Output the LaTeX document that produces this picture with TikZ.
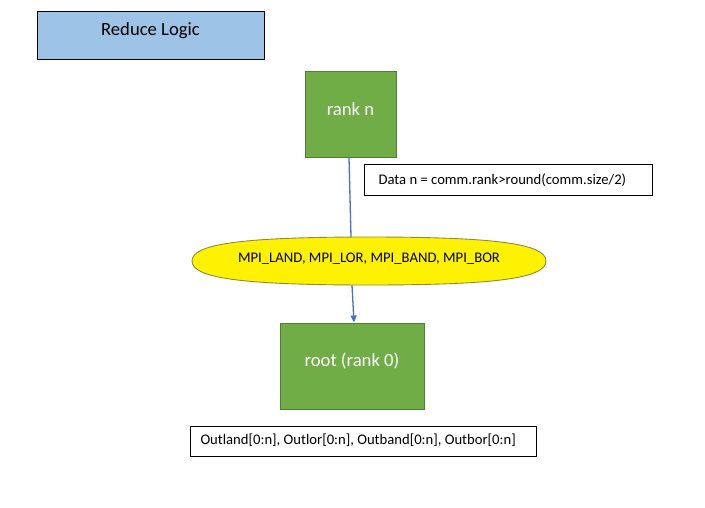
\documentclass[tikz,border=0pt]{standalone}
\usepackage{fontspec}
\setmainfont{Carlito}
\usetikzlibrary{arrows.meta}
\definecolor{titleblue}{HTML}{9DC3E6}
\definecolor{boxgreen}{HTML}{70AD47}
\definecolor{boxgreenline}{HTML}{507E32}
\definecolor{ellline}{HTML}{8C8C3A}
\definecolor{linkblue}{HTML}{4472C4}
\tikzset{
  titlebox/.style={draw=black, fill=titleblue, line width=0.9pt, minimum width=227pt, minimum height=48pt, inner sep=0pt, font=\fontsize{18.67}{22}\selectfont},
  greenbox/.style={draw=boxgreenline, fill=boxgreen, line width=0.9pt, text=white, inner sep=0pt, font=\fontsize{18.67}{22}\selectfont},
  notebox/.style={draw=black, fill=white, line width=0.9pt, inner sep=0pt, font=\fontsize{14.67}{18}\selectfont},
  opframe/.style={minimum width=354pt, minimum height=48pt, inner sep=0pt},
  opshape/.style={draw=ellline, fill=yellow, line width=0.9pt},
  link/.style={draw=linkblue, line width=1.3pt},
}
\begin{document}
\begin{tikzpicture}[x=1pt,y=-1pt]
\useasboundingbox (0,0) rectangle (705,507);
\node[titlebox] (title) at (150.5,35) {};
\node[font=\fontsize{18.67}{22}\selectfont] (titletext) at (150.5,31) {Reduce Logic};
\node[greenbox, minimum width=91pt, minimum height=86pt] (rankn) at (350.5,114) {};
\node[greenbox, fill=none, draw=none] (ranklabel) at (350.5,109) {rank n};
\node[notebox, minimum width=288pt, minimum height=31pt] (data) at (508,179.5) {};
\node[font=\fontsize{14.67}{18}\selectfont, anchor=west] (datatext) at (375,180.5) {Data n = comm.rank>round(comm.size/2)};
\node[opframe] (ops) at (369,261) {};
\draw[opshape, shift={(ops.center)}] (177,0) .. controls (177,-17) and (128,-24) .. (0,-24)
  .. controls (-128,-24) and (-177,-17) .. (-177,0)
  .. controls (-177,17) and (-128,24) .. (0,24)
  .. controls (128,24) and (177,17) .. (177,0) -- cycle;
\node[font=\fontsize{14.67}{18}\selectfont] (opstext) at (369,259) {MPI\_LAND, MPI\_LOR, MPI\_BAND, MPI\_BOR};
\node[greenbox, minimum width=144pt, minimum height=86pt] (root) at (352,366) {};
\node[greenbox, fill=none, draw=none] (rootlabel) at (352,361) {root (rank 0)};
\node[notebox, minimum width=346pt, minimum height=30pt] (out) at (363,441) {};
\node[font=\fontsize{14.67}{18}\selectfont, anchor=west] (outtext) at (197,440.5) {Outland[0:n], Outlor[0:n], Outband[0:n], Outbor[0:n]};
\draw[link] ([xshift=-1.5pt]rankn.south) -- ([xshift=-18pt]ops.north);
\draw[link, -{Triangle[length=7pt,width=6pt]}] ([xshift=-17pt]ops.south) -- ([xshift=2pt]root.north);
\end{tikzpicture}
\end{document}
